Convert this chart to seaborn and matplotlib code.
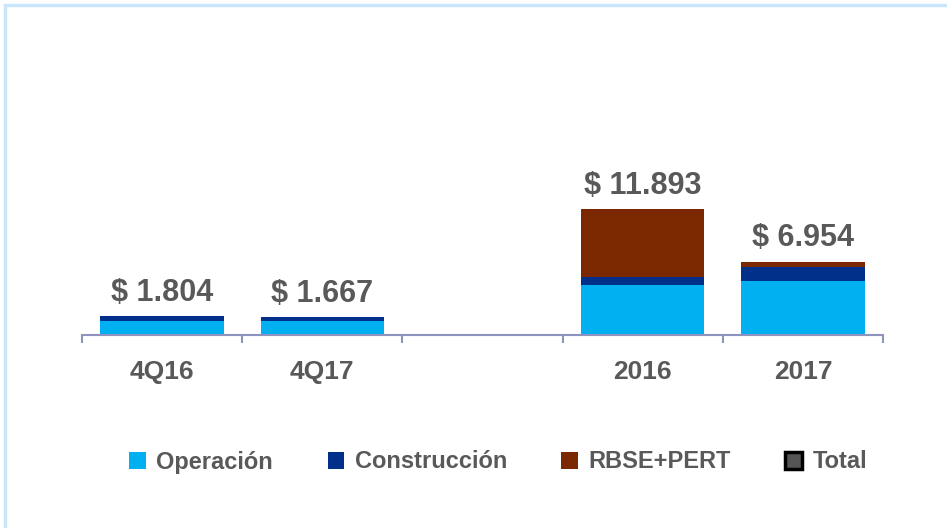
import matplotlib
matplotlib.use("Agg")
import matplotlib.pyplot as plt
import seaborn as sns
import pandas as pd
from matplotlib.patches import Patch, Rectangle

sns.set_style("white")
plt.rcParams['font.family'] = ['Liberation Sans', 'DejaVu Sans']

categories = ["4Q16", "4Q17", "2016", "2017"]
order = ["4Q16", "4Q17", " ", "2016", "2017"]
operacion = [1324, 1330, 4730, 5109]
construccion = [480, 337, 728, 1296]
rbse_pert = [0, 0, 6435, 549]
totals = [1804, 1667, 11893, 6954]
total_labels = ["$ 1.804", "$ 1.667", "$ 11.893", "$ 6.954"]
series_names = ["Operación", "Construcción", "RBSE+PERT", "Total"]

c_oper = "#00B0F0"
c_cons = "#00308A"
c_rbse = "#7B2800"
text_gray = "#595959"
axis_col = "#8E94BE"

df = pd.DataFrame({"cat": categories, "oper": operacion, "cons": construccion, "rbse": rbse_pert})
df["lvl2"] = df["oper"] + df["cons"]
df["lvl3"] = df["lvl2"] + df["rbse"]

W, H = 947, 528
fig = plt.figure(figsize=(W / 100, H / 100), dpi=100)
ax_left, ax_right = 82 / W, 883 / W
ax_bottom = 1 - 335 / H
ax_top = 1 - 40 / H
ax = fig.add_axes([ax_left, ax_bottom, ax_right - ax_left, ax_top - ax_bottom])

for col, colr in [("lvl3", c_rbse), ("lvl2", c_cons), ("oper", c_oper)]:
    sns.barplot(data=df, x="cat", y=col, order=order, color=colr, width=0.77,
                saturation=1, linewidth=0, ax=ax, errorbar=None)

px_per_unit = 125.7 / 11893
ax.set_ylim(0, (335 - 40) / px_per_unit)
ax.set_xlim(-0.5, 4.5)

pos = {c: i for i, c in enumerate(order)}
for c, t, lab in zip(categories, totals, total_labels):
    ax.annotate(lab, xy=(pos[c], t), xytext=(0, 11), textcoords="offset points",
                ha="center", va="baseline", fontsize=22, fontweight="bold",
                color=text_gray, annotation_clip=False)

for s in ["top", "right", "left"]:
    ax.spines[s].set_visible(False)
ax.spines["bottom"].set_color(axis_col)
ax.spines["bottom"].set_linewidth(1.5)
ax.set_yticks([])
ax.set_xlabel("")
ax.set_ylabel("")
ax.set_xticks(range(len(order)))
ax.set_xticklabels(order, fontsize=19, fontweight="bold", color=text_gray)
ax.tick_params(axis="x", which="major", length=0, pad=18)
ax.set_xticks([i - 0.5 for i in range(len(order) + 1)], minor=True)
ax.tick_params(axis="x", which="minor", bottom=True, length=6, width=1.5,
               color=axis_col, direction="out")

handles = [Patch(facecolor=c_oper, edgecolor="none"),
           Patch(facecolor=c_cons, edgecolor="none"),
           Patch(facecolor=c_rbse, edgecolor="none"),
           Patch(facecolor="#555555", edgecolor="black", linewidth=2.5)]
leg = fig.legend(handles, series_names, loc="center", bbox_to_anchor=(0.526, 1 - 462 / H),
                 ncol=4, frameon=False, handlelength=0.7, handleheight=0.7,
                 handletextpad=0.45, columnspacing=2.3,
                 prop={"size": 17, "weight": "bold", "family": ["Liberation Sans"]})
for t in leg.get_texts():
    t.set_color(text_gray)

fig.add_artist(Rectangle((5 / W, -0.1), 1.2, 1 - 5 / H + 0.1, transform=fig.transFigure,
                         facecolor="none", edgecolor="#C9E6FA", linewidth=2.5))

fig.savefig("out.png", dpi=100)
